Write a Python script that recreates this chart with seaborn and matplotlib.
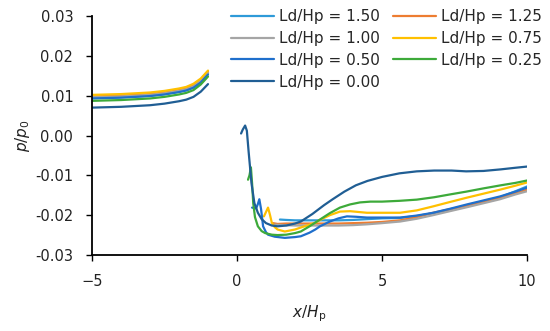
import pandas as pd
import matplotlib
matplotlib.use("Agg")
import matplotlib.pyplot as plt
import seaborn as sns

# series names (legend order as in the source)
series = ["Ld/Hp = 1.50", "Ld/Hp = 1.25", "Ld/Hp = 1.00", "Ld/Hp = 0.75",
          "Ld/Hp = 0.50", "Ld/Hp = 0.25", "Ld/Hp = 0.00"]
colors = ["#2E9AD8", "#ED7D31", "#A5A5A5", "#FFC000", "#1F6FCC", "#3DAA3A", "#205E94"]

# upstream part (x/Hp from -5 to -1)
x_up = [-5, -4.5, -4, -3.5, -3, -2.5, -2, -1.75, -1.5, -1.25, -1]
y_up = {
    "Ld/Hp = 1.50": [0.0094, 0.0095, 0.0096, 0.0098, 0.0100, 0.0104, 0.0110, 0.0114, 0.0121, 0.0135, 0.0155],
    "Ld/Hp = 1.25": [0.0098, 0.0099, 0.0100, 0.0102, 0.0104, 0.0108, 0.0114, 0.0119, 0.0126, 0.0140, 0.0160],
    "Ld/Hp = 1.00": [0.0096, 0.0097, 0.0098, 0.0100, 0.0102, 0.0106, 0.0112, 0.0116, 0.0123, 0.0137, 0.0157],
    "Ld/Hp = 0.75": [0.0102, 0.0103, 0.0104, 0.0106, 0.0108, 0.0112, 0.0118, 0.0122, 0.0130, 0.0143, 0.0163],
    "Ld/Hp = 0.50": [0.0093, 0.0094, 0.0095, 0.0097, 0.0099, 0.0103, 0.0109, 0.0113, 0.0120, 0.0133, 0.0153],
    "Ld/Hp = 0.25": [0.0087, 0.0088, 0.0089, 0.0091, 0.0093, 0.0097, 0.0103, 0.0107, 0.0114, 0.0128, 0.0148],
    "Ld/Hp = 0.00": [0.0070, 0.0071, 0.0072, 0.0074, 0.0076, 0.0080, 0.0086, 0.0090, 0.0097, 0.0110, 0.0129],
}

# downstream part
x_down = {
    "Ld/Hp = 1.50": [1.48, 1.7, 2.0, 2.5, 3.0, 3.5, 4.0, 4.48, 5.0, 5.62, 6.2, 6.76, 7.34, 7.93, 8.5, 9.07, 9.6, 10.0],
    "Ld/Hp = 1.25": [1.24, 1.4, 1.7, 2.0, 2.5, 3.0, 3.5, 4.0, 4.48, 5.0, 5.62, 6.2, 6.76, 7.34, 7.93, 8.5, 9.07, 9.6, 10.0],
    "Ld/Hp = 1.00": [1.3, 1.6, 2.0, 2.5, 3.0, 3.5, 4.0, 4.48, 5.0, 5.62, 6.2, 6.76, 7.34, 7.93, 8.5, 9.07, 9.6, 10.0],
    "Ld/Hp = 0.75": [0.93, 1.0, 1.07, 1.14, 1.2, 1.3, 1.4, 1.65, 2.0, 2.2, 2.5, 2.7, 2.86, 3.2, 3.55, 3.9,
                     4.48, 5.0, 5.62, 6.2, 6.76, 7.34, 7.93, 8.5, 9.07, 9.6, 10.0],
    "Ld/Hp = 0.50": [0.52, 0.6, 0.66, 0.72, 0.77, 0.83, 0.9, 1.0, 1.07, 1.3, 1.65, 2.0, 2.2, 2.5, 2.7, 2.86,
                     3.2, 3.5, 3.79, 4.1, 4.48, 5.0, 5.62, 6.2, 6.76, 7.34, 7.93, 8.5, 9.07, 9.6, 10.0],
    "Ld/Hp = 0.25": [0.38, 0.43, 0.48, 0.52, 0.56, 0.62, 0.72, 0.85, 0.97, 1.2, 1.4, 1.7, 2.0, 2.2, 2.5, 2.86,
                     3.2, 3.55, 3.9, 4.24, 4.6, 5.0, 5.6, 6.2, 6.8, 7.34, 7.9, 8.48, 9.1, 9.6, 10.0],
    "Ld/Hp = 0.00": [0.14, 0.2, 0.28, 0.34, 0.4, 0.5, 0.6, 0.72, 0.85, 1.0, 1.2, 1.4, 1.7, 2.0, 2.2, 2.6,
                     3.0, 3.3, 3.7, 4.1, 4.5, 5.0, 5.6, 6.2, 6.8, 7.4, 7.9, 8.5, 9.1, 9.6, 10.0],
}
y_down = {
    "Ld/Hp = 1.50": [-0.0211, -0.0212, -0.0213, -0.0213, -0.0213, -0.0213, -0.0212, -0.0210, -0.0208,
                     -0.0207, -0.0202, -0.0195, -0.0186, -0.0175, -0.0165, -0.0155, -0.0140, -0.0128],
    "Ld/Hp = 1.25": [-0.0220, -0.0222, -0.0221, -0.0221, -0.0221, -0.0221, -0.0221, -0.0220, -0.0219,
                     -0.0217, -0.0213, -0.0205, -0.0194, -0.0185, -0.0176, -0.0166, -0.0156, -0.0145, -0.0136],
    "Ld/Hp = 1.00": [-0.0224, -0.0225, -0.0226, -0.0226, -0.0226, -0.0226, -0.0225, -0.0223, -0.0220,
                     -0.0216, -0.0209, -0.0200, -0.0190, -0.0180, -0.0170, -0.0160, -0.0148, -0.0140],
    "Ld/Hp = 0.75": [-0.0203, -0.0192, -0.0181, -0.0200, -0.0219, -0.0230, -0.0236, -0.0241, -0.0236,
                     -0.0231, -0.0224, -0.0219, -0.0212, -0.0200, -0.0191, -0.0190, -0.0194, -0.0194,
                     -0.0194, -0.0188, -0.0178, -0.0167, -0.0156, -0.0146, -0.0136, -0.0126, -0.0118],
    "Ld/Hp = 0.50": [-0.0181, -0.0182, -0.0183, -0.0172, -0.0160, -0.0185, -0.0228, -0.0243, -0.0249,
                     -0.0254, -0.0257, -0.0255, -0.0253, -0.0244, -0.0236, -0.0228, -0.0216, -0.0208,
                     -0.0203, -0.0204, -0.0206, -0.0206, -0.0206, -0.0201, -0.0194, -0.0184, -0.0173,
                     -0.0163, -0.0153, -0.0141, -0.0131],
    "Ld/Hp = 0.25": [-0.0111, -0.0100, -0.0080, -0.0120, -0.0170, -0.0205, -0.0228, -0.0240, -0.0245,
                     -0.0249, -0.0250, -0.0249, -0.0245, -0.0241, -0.0228, -0.0211, -0.0195, -0.0181,
                     -0.0173, -0.0168, -0.0166, -0.0166, -0.0164, -0.0161, -0.0155, -0.0148, -0.0141,
                     -0.0133, -0.0125, -0.0119, -0.0113],
    "Ld/Hp = 0.00": [0.0005, 0.0015, 0.0025, 0.0012, -0.0040, -0.0120, -0.0170, -0.0194, -0.0210,
                     -0.0220, -0.0226, -0.0228, -0.0226, -0.0221, -0.0216, -0.0197, -0.0175, -0.0160,
                     -0.0141, -0.0125, -0.0114, -0.0104, -0.0095, -0.0090, -0.0088, -0.0088, -0.0090,
                     -0.0089, -0.0085, -0.0081, -0.0078],
}

rows = []
for s in series:
    for x, y in zip(x_up, y_up[s]):
        rows.append({"x": x, "y": y, "series": s, "part": "up"})
    for x, y in zip(x_down[s], y_down[s]):
        rows.append({"x": x, "y": y, "series": s, "part": "down"})
df = pd.DataFrame(rows)

sns.set_style("ticks")
plt.rcParams["font.family"] = ["DejaVu Sans"]
plt.rcParams["mathtext.fontset"] = "dejavusans"

fig = plt.figure(figsize=(5.5, 3.31), dpi=100)
ax = fig.add_axes([92 / 550, 1 - 255 / 331, (527 - 92) / 550, (255 - 16) / 331])

sns.lineplot(
    data=df, x="x", y="y", hue="series", units="part", estimator=None,
    sort=False, hue_order=series, palette=colors, linewidth=1.6, ax=ax
)

ax.set_xlim(-5, 10)
ax.set_ylim(-0.03, 0.03)
ax.set_xticks([-5, 0, 5, 10])
ax.set_yticks([-0.03, -0.02, -0.01, 0.0, 0.01, 0.02, 0.03])
ax.yaxis.set_major_formatter(matplotlib.ticker.FormatStrFormatter("%.2f"))
ax.tick_params(axis="both", labelsize=10.5, length=4.5, width=1, color="black",
               labelcolor="#222222")
ax.tick_params(axis="y", pad=9)
ax.tick_params(axis="x", pad=9.5)
for side in ["top", "right"]:
    ax.spines[side].set_visible(False)
for side in ["left", "bottom"]:
    ax.spines[side].set_linewidth(1.3)
    ax.spines[side].set_color("black")

ax.set_xlabel(r"$x$/$H_\mathrm{p}$", fontsize=11, labelpad=10, color="#222222")
ax.set_ylabel(r"$p$/$p_\mathrm{0}$", fontsize=11, labelpad=2, color="#222222")

handles, labels = ax.get_legend_handles_labels()
order = [0, 2, 4, 6, 1, 3, 5]
ax.legend([handles[i] for i in order], [labels[i] for i in order],
          ncol=2, frameon=False, loc="upper right", bbox_to_anchor=(1.004, 1.005),
          bbox_transform=fig.transFigure, fontsize=11, handlelength=2.8,
          handletextpad=0.3, columnspacing=0.9, labelspacing=0.45, borderpad=0.2)

plt.savefig("out.png", dpi=100)
plt.close()
